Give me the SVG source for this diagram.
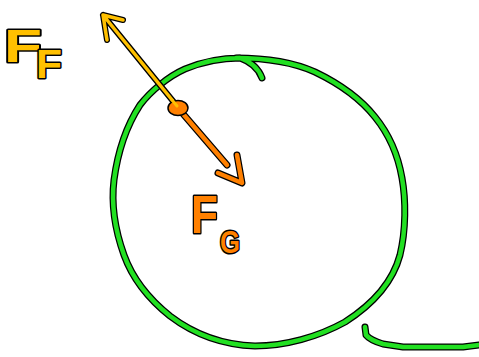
<svg xmlns="http://www.w3.org/2000/svg" width="479" height="357" viewBox="0 0 479 357">
<style>
.o{fill:none;stroke:#000;stroke-linecap:round;stroke-linejoin:round}
.g{fill:none;stroke:#22e022;stroke-linecap:round;stroke-linejoin:round;stroke-width:4.5}
.go{stroke-width:7}
.y{fill:none;stroke:#ffc000;stroke-linecap:round;stroke-linejoin:round;stroke-width:3.5}
.yo{stroke-width:6}
.r{fill:none;stroke:#ff8000;stroke-linecap:round;stroke-linejoin:round;stroke-width:4.5}
.ro{stroke-width:7}
.lbl{font-family:"Liberation Sans",Arial,sans-serif;font-weight:bold;stroke:#000;stroke-width:3;paint-order:stroke;stroke-linejoin:round}
</style>
<rect width="479" height="357" fill="#fff"/>
<g id="ball">
<path class="o go" d="M262,78 Q257,64 240,58 C222,58 202,62 185,69 C167,77 150,92 140,105 C127,125 118,150 114,180 C111,205 115,230 124,255 C133,280 150,300 170,316 C195,335 225,345 255,346 C285,346 318,337 345,322 C370,306 392,285 400,255 C406,230 406,200 402,178 C398,155 388,133 375,117 C360,98 340,84 315,72 C295,63 270,58 236,58"/>
<path class="g" d="M262,78 Q257,64 240,58 C222,58 202,62 185,69 C167,77 150,92 140,105 C127,125 118,150 114,180 C111,205 115,230 124,255 C133,280 150,300 170,316 C195,335 225,345 255,346 C285,346 318,337 345,322 C370,306 392,285 400,255 C406,230 406,200 402,178 C398,155 388,133 375,117 C360,98 340,84 315,72 C295,63 270,58 236,58"/>
</g>
<g id="ground">
<path class="o go" d="M365,327 L366,335 Q370,340 383,344 L403,347 L463,347 L479,345"/>
<path class="g" d="M365,327 L366,335 Q370,340 383,344 L403,347 L463,347 L479,345"/>
</g>
<g id="connectors">
<g id="force-f">
<path class="o yo" d="M177,106 L103,15 M123,20 L103,15 L107,40"/>
<path class="y" d="M177,106 L103,15 M123,20 L103,15 L107,40"/>
</g>
<g id="force-g">
<path class="o ro" d="M178,108 L227,165 M218,173 L242,183 L237,155"/>
<path class="r" d="M178,108 L227,165 M218,173 L242,183 L237,155"/>
<ellipse cx="178" cy="108" rx="10" ry="7.5" fill="#ff8000" stroke="#000" stroke-width="1.5"/>
<path d="M177,106 L172,100" stroke="#ffc000" stroke-width="3" stroke-linecap="round"/>
</g>
</g>
<g id="label-ff">
<text class="lbl" x="4" y="62" font-size="47" fill="#ffc000" textLength="38" lengthAdjust="spacingAndGlyphs">F</text>
<text class="lbl" x="36" y="78" font-size="40" fill="#ffc000" textLength="26" lengthAdjust="spacingAndGlyphs">F</text>
</g>
<g id="label-fg">
<text class="lbl" x="191" y="233" font-size="53" fill="#ff8000" textLength="27" lengthAdjust="spacingAndGlyphs">F</text>
<text class="lbl" x="220" y="253" font-size="31" fill="#ff8000" textLength="20" lengthAdjust="spacingAndGlyphs">G</text>
</g>
</svg>
